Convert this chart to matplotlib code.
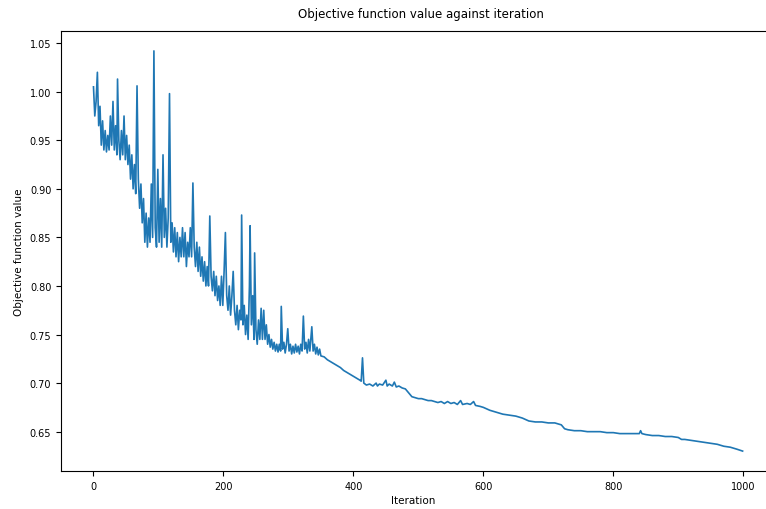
import matplotlib
matplotlib.use('Agg')
import matplotlib.pyplot as plt

# values (iteration, objective value)
iters = [0, 2, 4, 6, 8, 10, 12, 14, 16, 18, 20, 22, 24, 26, 28, 30, 32, 34, 36, 37,
         39, 41, 43, 45, 47, 49, 51, 53, 55, 57, 59, 61, 63, 65, 67, 69, 71, 73, 75, 77,
         79, 81, 83, 85, 87, 89, 91, 93, 95, 97, 99, 101, 103, 105, 107, 109, 111, 113, 115, 117,
         119, 121, 123, 125, 127, 129, 131, 133, 135, 137, 139, 141, 143, 145, 147, 149, 151, 153, 155, 157,
         159, 161, 163, 165, 167, 169, 171, 173, 175, 177, 179, 181, 183, 185, 187, 189, 191, 193, 195, 197,
         199, 201, 203, 205, 207, 209, 211, 213, 215, 217, 219, 221, 223, 225, 227, 228, 230, 232, 234, 236,
         238, 240, 241, 243, 245, 247, 248, 250, 252, 254, 256, 258, 260, 262, 264, 266, 268, 270, 272, 274,
         276, 278, 280, 282, 284, 286, 288, 289, 291, 293, 295, 297, 299, 301, 303, 305, 307, 309, 311, 313,
         315, 317, 319, 321, 323, 325, 327, 329, 331, 333, 336, 338, 340, 342, 344, 346, 348, 350,
         355, 360, 365, 370, 375, 380, 385, 390, 395, 400, 405, 410, 412, 414, 416, 420, 425, 430, 435, 437,
         440, 445, 450, 452, 455, 460, 463, 466, 470, 475, 480, 485, 490, 495, 500, 505, 510, 515, 520, 525,
         530, 535, 540, 545, 550, 555, 560, 565, 568, 575, 580, 585, 588, 595, 600, 610, 620, 630, 640, 650,
         660, 670, 680, 690, 700, 710, 715, 720, 725, 730, 740, 750, 760, 770, 780, 790, 800, 810, 820, 830,
         840, 842, 844, 850, 860, 870, 880, 890, 900, 905, 910, 920, 930, 940, 950, 960, 970, 980, 990, 999]

values = [1.005, 0.975, 0.99, 1.020, 0.965, 0.985, 0.945, 0.97, 0.94, 0.96, 0.938, 0.955, 0.94, 0.975, 0.945, 0.99, 0.94, 0.965, 0.935, 1.013,
          0.95, 0.93, 0.96, 0.935, 0.975, 0.93, 0.955, 0.925, 0.945, 0.91, 0.935, 0.90, 0.925, 0.895, 1.006, 0.91, 0.88, 0.905, 0.865, 0.89,
          0.845, 0.875, 0.84, 0.87, 0.845, 0.905, 0.85, 1.042, 0.86, 0.84, 0.92, 0.845, 0.89, 0.84, 0.935, 0.85, 0.88, 0.84, 0.87, 0.998,
          0.845, 0.865, 0.835, 0.86, 0.83, 0.855, 0.825, 0.85, 0.83, 0.86, 0.83, 0.855, 0.82, 0.845, 0.83, 0.86, 0.83, 0.906, 0.84, 0.82,
          0.845, 0.815, 0.84, 0.81, 0.83, 0.805, 0.825, 0.80, 0.82, 0.80, 0.872, 0.81, 0.795, 0.815, 0.79, 0.81, 0.785, 0.80, 0.78, 0.81,
          0.78, 0.815, 0.855, 0.79, 0.775, 0.80, 0.77, 0.79, 0.815, 0.775, 0.76, 0.78, 0.755, 0.775, 0.765, 0.873, 0.76, 0.78, 0.75, 0.77,
          0.745, 0.80, 0.862, 0.76, 0.79, 0.745, 0.834, 0.755, 0.74, 0.765, 0.745, 0.777, 0.745, 0.775, 0.745, 0.76, 0.74, 0.75, 0.737, 0.745,
          0.735, 0.742, 0.733, 0.74, 0.732, 0.74, 0.733, 0.779, 0.735, 0.742, 0.731, 0.74, 0.756, 0.733, 0.74, 0.73, 0.738, 0.731, 0.74, 0.732,
          0.738, 0.73, 0.74, 0.733, 0.769, 0.735, 0.742, 0.731, 0.745, 0.733, 0.758, 0.733, 0.74, 0.73, 0.737, 0.729, 0.735, 0.728,
          0.727, 0.724, 0.722, 0.72, 0.718, 0.716, 0.713, 0.711, 0.709, 0.707, 0.705, 0.703, 0.702, 0.726, 0.700, 0.698, 0.699, 0.697, 0.700, 0.697,
          0.699, 0.698, 0.703, 0.697, 0.699, 0.697, 0.701, 0.696, 0.697, 0.695, 0.694, 0.690, 0.686, 0.685, 0.684, 0.684, 0.683, 0.682, 0.682, 0.681,
          0.680, 0.681, 0.679, 0.681, 0.679, 0.680, 0.678, 0.682, 0.678, 0.679, 0.678, 0.681, 0.677, 0.676, 0.675, 0.672, 0.670, 0.668, 0.667, 0.666,
          0.664, 0.661, 0.660, 0.660, 0.659, 0.659, 0.658, 0.657, 0.653, 0.652, 0.651, 0.651, 0.650, 0.650, 0.650, 0.649, 0.649, 0.648, 0.648, 0.648,
          0.648, 0.651, 0.648, 0.647, 0.646, 0.646, 0.645, 0.645, 0.644, 0.642, 0.642, 0.641, 0.640, 0.639, 0.638, 0.637, 0.635, 0.634, 0.632, 0.630]

fig = plt.figure(figsize=(7.66, 5.10), dpi=100)
# axes run to the right edge of the picture (the reference is cropped there)
ax = fig.add_axes([61/766, 38/510, 705/766, 440/510])
ax.plot(iters, values, color='#1f77b4', linewidth=1.2)

ax.set_xlim(-50, 1035)
ax.set_ylim(0.6095, 1.0625)
ax.spines['right'].set_visible(False)

ax.set_title('Objective function value against iteration', fontsize=8.5, pad=10, x=0.51)
ax.set_xlabel('Iteration', fontsize=7.5, labelpad=3)
ax.set_ylabel('Objective function value', fontsize=7.5)
ax.tick_params(labelsize=7)
ax.set_xticks([0, 200, 400, 600, 800, 1000])
ax.set_yticks([0.65, 0.70, 0.75, 0.80, 0.85, 0.90, 0.95, 1.00, 1.05])

fig.savefig('out.png', dpi=100)
